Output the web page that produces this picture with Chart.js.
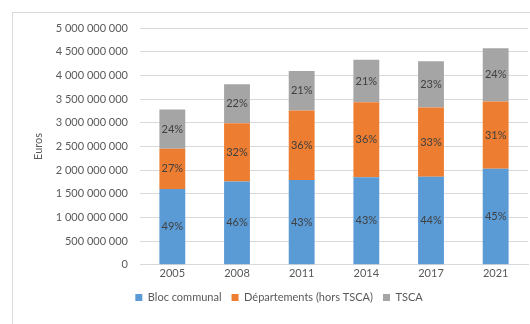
<!DOCTYPE html>
<html>
<head>
<meta charset="utf-8">
<script src="https://cdn.jsdelivr.net/npm/chart.js@4"></script>
<style>
  html, body { margin: 0; padding: 0; background: #fff; }
  #wrap { position: relative; width: 530px; height: 324px; }
  #frame { position: absolute; left: 12px; top: 12px; width: 530px; height: 330px; border: 1px solid #d9d9d9; box-sizing: border-box; }
  canvas { position: absolute; left: 0; top: 0; }
</style>
</head>
<body>
<div id="wrap">
  <div id="frame"></div>
  <canvas id="chart" width="530" height="324"></canvas>
</div>
<script>
// données
const annees = ["2005", "2008", "2011", "2014", "2017", "2021"];
const blocCommunal = [1600000000, 1760000000, 1790000000, 1850000000, 1860000000, 2030000000];
const departements = [850000000, 1230000000, 1470000000, 1580000000, 1460000000, 1420000000];
const tsca = [830000000, 820000000, 830000000, 900000000, 980000000, 1120000000];
const pctBloc = ["49%", "46%", "43%", "43%", "44%", "45%"];
const pctDep = ["27%", "32%", "36%", "36%", "33%", "31%"];
const pctTsca = ["24%", "22%", "21%", "21%", "23%", "24%"];

const police = "Lato, 'Liberation Sans', sans-serif";
const gris = "#595959";

const etiquettes = {
    id: "etiquettes",
    afterDatasetsDraw(chart) {
        const ctx = chart.ctx;
        const textes = [pctBloc, pctDep, pctTsca];
        ctx.save();
        ctx.font = "11px " + police;
        ctx.fillStyle = "#404040";
        ctx.textAlign = "center";
        ctx.textBaseline = "middle";
        chart.data.datasets.forEach((ds, i) => {
            chart.getDatasetMeta(i).data.forEach((bar, j) => {
                const y = (bar.y + bar.base) / 2;
                ctx.fillText(textes[i][j], bar.x, y);
            });
        });
        ctx.restore();
    }
};

new Chart(document.getElementById("chart"), {
    type: "bar",
    data: {
        labels: annees,
        datasets: [
            { label: "Bloc communal", data: blocCommunal, backgroundColor: "#5B9BD5" },
            { label: "Départements (hors TSCA)", data: departements, backgroundColor: "#ED7D31" },
            { label: "TSCA", data: tsca, backgroundColor: "#A5A5A5" },
        ],
    },
    options: {
        responsive: false,
        animation: false,
        layout: { padding: { left: 30, top: 28, right: 2, bottom: 11 } },
        datasets: { bar: { categoryPercentage: 1, barPercentage: 0.4 } },
        scales: {
            x: {
                stacked: true,
                grid: { display: false, drawTicks: false },
                border: { color: "#d9d9d9" },
                ticks: { color: gris, font: { family: police, size: 11 }, padding: 2 },
            },
            y: {
                stacked: true,
                min: 0,
                max: 5000000000,
                afterFit(scale) { scale.width = 110; },
                grid: { color: "#d9d9d9", drawTicks: false },
                border: { display: false },
                ticks: {
                    stepSize: 500000000,
                    color: gris,
                    padding: 12,
                    font: { family: police, size: 11 },
                    callback: v => String(v).replace(/\B(?=(\d{3})+(?!\d))/g, " "),
                },
                title: { display: true, text: "Euros", color: gris, font: { family: police, size: 11 }, padding: 2 },
            },
        },
        plugins: {
            legend: {
                position: "bottom",
                labels: { boxWidth: 7, boxHeight: 7, color: gris, font: { family: police, size: 11 }, padding: 10 },
            },
            tooltip: { enabled: false },
        },
    },
    plugins: [etiquettes],
});
</script>
</body>
</html>
